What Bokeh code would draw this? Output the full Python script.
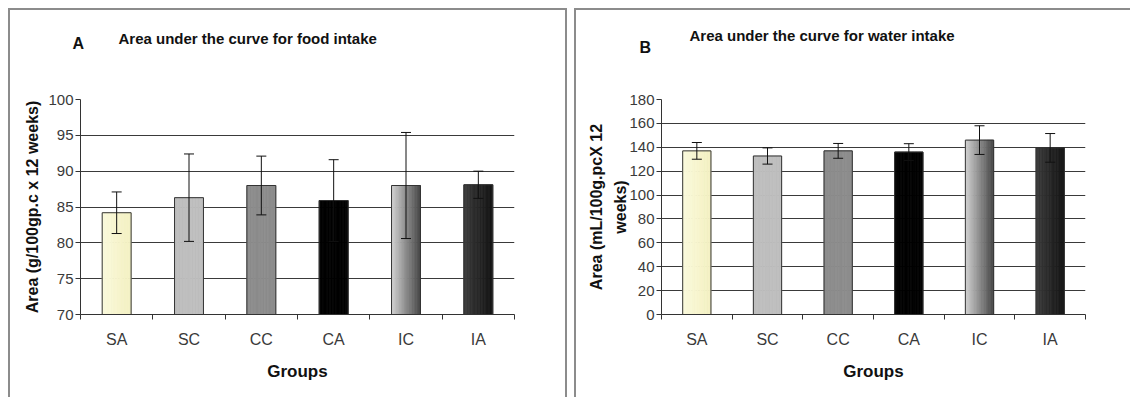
import numpy as np
from bokeh.plotting import figure
from bokeh.models import (ColumnDataSource, Range1d, FixedTicker, Whisker, TeeHead, Label,
                          Row, Column, Spacer)
from bokeh.embed import file_html
from bokeh.resources import INLINE

# ---------------- data ----------------
groups = ["SA", "SC", "CC", "CA", "IC", "IA"]
food_mean = [84.2, 86.3, 88.0, 85.9, 88.0, 88.1]
food_err = [2.9, 6.1, 4.1, 5.7, 7.4, 1.9]
water_mean = [137.0, 132.7, 137.0, 136.0, 146.0, 139.5]
water_err = [7.0, 6.8, 6.2, 7.0, 12.0, 12.0]
food_ticks = [70, 75, 80, 85, 90, 95, 100]
water_ticks = [0, 20, 40, 60, 80, 100, 120, 140, 160, 180]
# bar fill (left edge colour, right edge colour) to mimic Excel gradients
bar_left = ["#FBFADC", "#BEBEBE", "#8C8C8C", "#000000", "#D4D4D4", "#3C3C3C"]
bar_right = ["#F3F0C2", "#BEBEBE", "#8C8C8C", "#000000", "#474747", "#141414"]

FONT = "Liberation Sans"
BAR_W = 0.4
N_STRIPS = 20


def hex2rgb(h):
    h = h.lstrip("#")
    return np.array([int(h[i:i + 2], 16) for i in (0, 2, 4)], dtype=float)


def make_panel(means, errs, ticks, width, height, borders, styles):
    bl, br, bt, bb = borders
    ymin, ymax = ticks[0], ticks[-1]
    n = len(groups)
    xs = [i + 0.5 for i in range(n)]
    p = figure(width=width, height=height, output_backend="svg", toolbar_location=None,
               x_range=Range1d(0, n), y_range=Range1d(ymin, ymax),
               min_border_left=bl, min_border_right=br, min_border_top=bt, min_border_bottom=bb,
               styles=styles)
    p.title.visible = False
    p.outline_line_color = None
    p.background_fill_color = "white"
    p.border_fill_color = "white"
    p.xgrid.visible = False
    p.ygrid.ticker = FixedTicker(ticks=ticks)
    p.ygrid.grid_line_color = "#3a3a3a"
    p.ygrid.grid_line_width = 1

    # x axis: labels at centres, tick marks at category boundaries
    xa = p.xaxis[0]
    xa.ticker = FixedTicker(ticks=xs, minor_ticks=list(range(n + 1)))
    xa.major_label_overrides = {x: g for x, g in zip(xs, groups)}
    xa.major_tick_out = 0
    xa.major_tick_in = 0
    xa.minor_tick_out = 5
    xa.minor_tick_in = 0
    xa.minor_tick_line_color = "#333333"
    xa.axis_line_color = "#333333"
    xa.major_label_standoff = 11
    xa.major_label_text_font = FONT
    xa.major_label_text_font_size = "16px"
    xa.major_label_text_color = "#3a3a3a"
    xa.axis_label = "Groups"
    xa.axis_label_text_font = FONT
    xa.axis_label_text_font_size = "17px"
    xa.axis_label_text_font_style = "bold"
    xa.axis_label_text_color = "#111111"
    xa.axis_label_standoff = 11

    ya = p.yaxis[0]
    ya.ticker = FixedTicker(ticks=ticks)
    ya.major_tick_out = 5
    ya.major_tick_in = 0
    ya.minor_tick_out = 0
    ya.minor_tick_in = 0
    ya.axis_line_color = "#333333"
    ya.major_tick_line_color = "#333333"
    ya.major_label_standoff = 2
    ya.major_label_text_font = FONT
    ya.major_label_text_font_size = "15px"
    ya.major_label_text_color = "#3a3a3a"
    ya.axis_label_text_font = FONT
    ya.axis_label_text_font_size = "16px"
    ya.axis_label_text_font_style = "bold"
    ya.axis_label_text_color = "#111111"

    # bars built from thin strips to imitate gradient fills
    lefts, rights, tops, bottoms, cols = [], [], [], [], []
    for i in range(n):
        c0, c1 = hex2rgb(bar_left[i]), hex2rgb(bar_right[i])
        for k in range(N_STRIPS):
            t = (k + 0.5) / N_STRIPS
            c = c0 + (c1 - c0) * t
            lefts.append(xs[i] - BAR_W / 2 + k * BAR_W / N_STRIPS)
            rights.append(xs[i] - BAR_W / 2 + (k + 1) * BAR_W / N_STRIPS)
            tops.append(means[i])
            bottoms.append(ymin)
            cols.append("#%02x%02x%02x" % tuple(int(round(v)) for v in c))
    p.quad(left=lefts, right=rights, top=tops, bottom=bottoms,
           fill_color=cols, line_color=cols, line_width=0.8)
    p.vbar(x=xs, width=BAR_W, top=means, bottom=ymin,
           fill_color=None, line_color="#333333", line_width=1)

    src = ColumnDataSource(dict(x=xs,
                                upper=[m + e for m, e in zip(means, errs)],
                                lower=[m - e for m, e in zip(means, errs)]))
    w = Whisker(base="x", upper="upper", lower="lower", source=src,
                line_color="#111111", line_width=1, level="annotation",
                upper_head=TeeHead(size=10, line_color="#111111", line_width=1),
                lower_head=TeeHead(size=10, line_color="#111111", line_width=1))
    p.add_layout(w)
    return p


def top_label(p, text, x, y, size):
    p.add_layout(Label(x=x, y=y, x_units="screen", y_units="screen", text=text,
                       text_font=FONT, text_font_size=size, text_font_style="bold",
                       text_color="#111111", text_align="left",
                       text_baseline="alphabetic"), "above")


BORDER = "2px solid #8c8c8c"
style_l = {"border-left": BORDER, "border-top": BORDER, "border-right": BORDER,
           "box-sizing": "border-box"}
style_r = {"border-left": BORDER, "border-top": BORDER, "box-sizing": "border-box"}

H = 389

p1 = make_panel(food_mean, food_err, food_ticks, 559, H, (70, 55, 85, 85), style_l)
p1.yaxis[0].axis_label = "Area (g/100gp.c x 12 weeks)"
p1.yaxis[0].axis_label_standoff = 4
top_label(p1, "A", -8, 56, "16px")
top_label(p1, "Area under the curve for food intake", 38, 44, "15px")

p2 = make_panel(water_mean, water_err, water_ticks, 556, H, (85, 47, 89, 85), style_r)
p2.yaxis[0].axis_label = "Area (mL/100g.pcX 12\nweeks)"
p2.yaxis[0].axis_label_standoff = -3
p2.yaxis[0].axis_label_text_line_height = 1.45
top_label(p2, "B", -22, 52, "16px")
top_label(p2, "Area under the curve for water intake", 28, 47, "15px")

layout = Column(children=[Spacer(height=8),
                          Row(children=[Spacer(width=8), p1, Spacer(width=7), p2], spacing=0)],
                spacing=0)
open("out.html", "w").write(file_html(layout, INLINE))
